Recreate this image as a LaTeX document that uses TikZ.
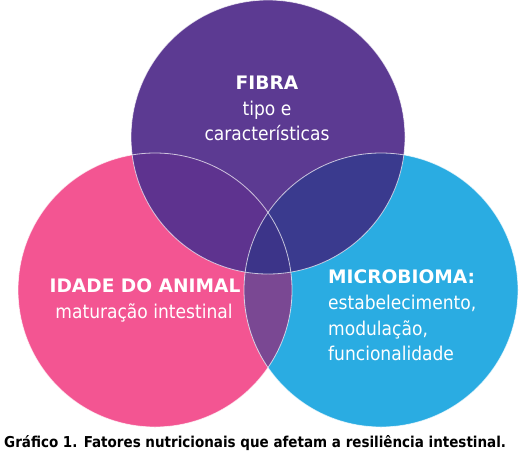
\documentclass[tikz,border=0pt]{standalone}
\usepackage{fontspec}
\setmainfont{DejaVu Sans}
\newfontfamily\condfont{DejaVu Sans Condensed}
\definecolor{fibracol}{HTML}{5C3A92}
\definecolor{idadecol}{HTML}{F35592}
\definecolor{microcol}{HTML}{2AACE2}
\definecolor{fibidcol}{HTML}{5E338F}
\definecolor{fibmicol}{HTML}{3A3A8E}
\definecolor{idmicol}{HTML}{7A4893}
\definecolor{tresecol}{HTML}{3C3489}
\tikzset{
  titulo/.style={text=white,inner sep=0pt,font=\bfseries\fontsize{18.6}{22}\selectfont},
  texto/.style={text=white,inner sep=0pt,font=\condfont\fontsize{19}{23}\selectfont},
  borda/.style={draw=white,draw opacity=0.7,line width=0.8pt}
}
\begin{document}
\begin{tikzpicture}[x=1pt,y=-1pt]
    \useasboundingbox (0,0) rectangle (524,456);
    \coordinate (cfibra) at (268,137);
    \coordinate (cidade) at (155,290);
    \coordinate (cmicro) at (381,290);

    \fill[idadecol] (cidade) circle (137pt);
    \fill[microcol] (cmicro) circle (137pt);
    \begin{scope}
      \clip (cidade) circle (137pt);
      \fill[idmicol] (cmicro) circle (137pt);
    \end{scope}
    \fill[fibracol] (cfibra) circle (137pt);
    \begin{scope}
      \clip (cfibra) circle (137pt);
      \fill[fibidcol] (cidade) circle (137pt);
      \fill[fibmicol] (cmicro) circle (137pt);
      \clip (cidade) circle (137pt);
      \fill[tresecol] (cmicro) circle (137pt);
    \end{scope}
    \draw[borda] (cidade) circle (137pt);
    \draw[borda] (cmicro) circle (137pt);
    \draw[borda] (cfibra) circle (137pt);

    \node[titulo,anchor=base] (fibra) at (267,89) {FIBRA};
    \node[texto,anchor=base] (fibra1) at (267,115) {tipo e};
    \node[texto,anchor=base] (fibra2) at (267,140) {características};

    \node[titulo,anchor=base] (idade) at (145,292) {IDADE DO ANIMAL};
    \node[texto,anchor=base] (idade1) at (144,318) {maturação intestinal};

    \node[titulo,anchor=base west] (micro) at (328,283) {MICROBIOMA:};
    \node[texto,anchor=base west] (micro1) at (328,309) {estabelecimento,};
    \node[texto,anchor=base west] (micro2) at (328,335) {modulação,};
    \node[texto,anchor=base west] (micro3) at (328,360) {funcionalidade};

    \node[inner sep=0pt,anchor=base west,font=\condfont\bfseries\fontsize{15}{18}\selectfont]
      (legenda) at (4,447) {Gráfico 1. Fatores nutricionais que afetam a resiliência intestinal.};
  \end{tikzpicture}
\end{document}
